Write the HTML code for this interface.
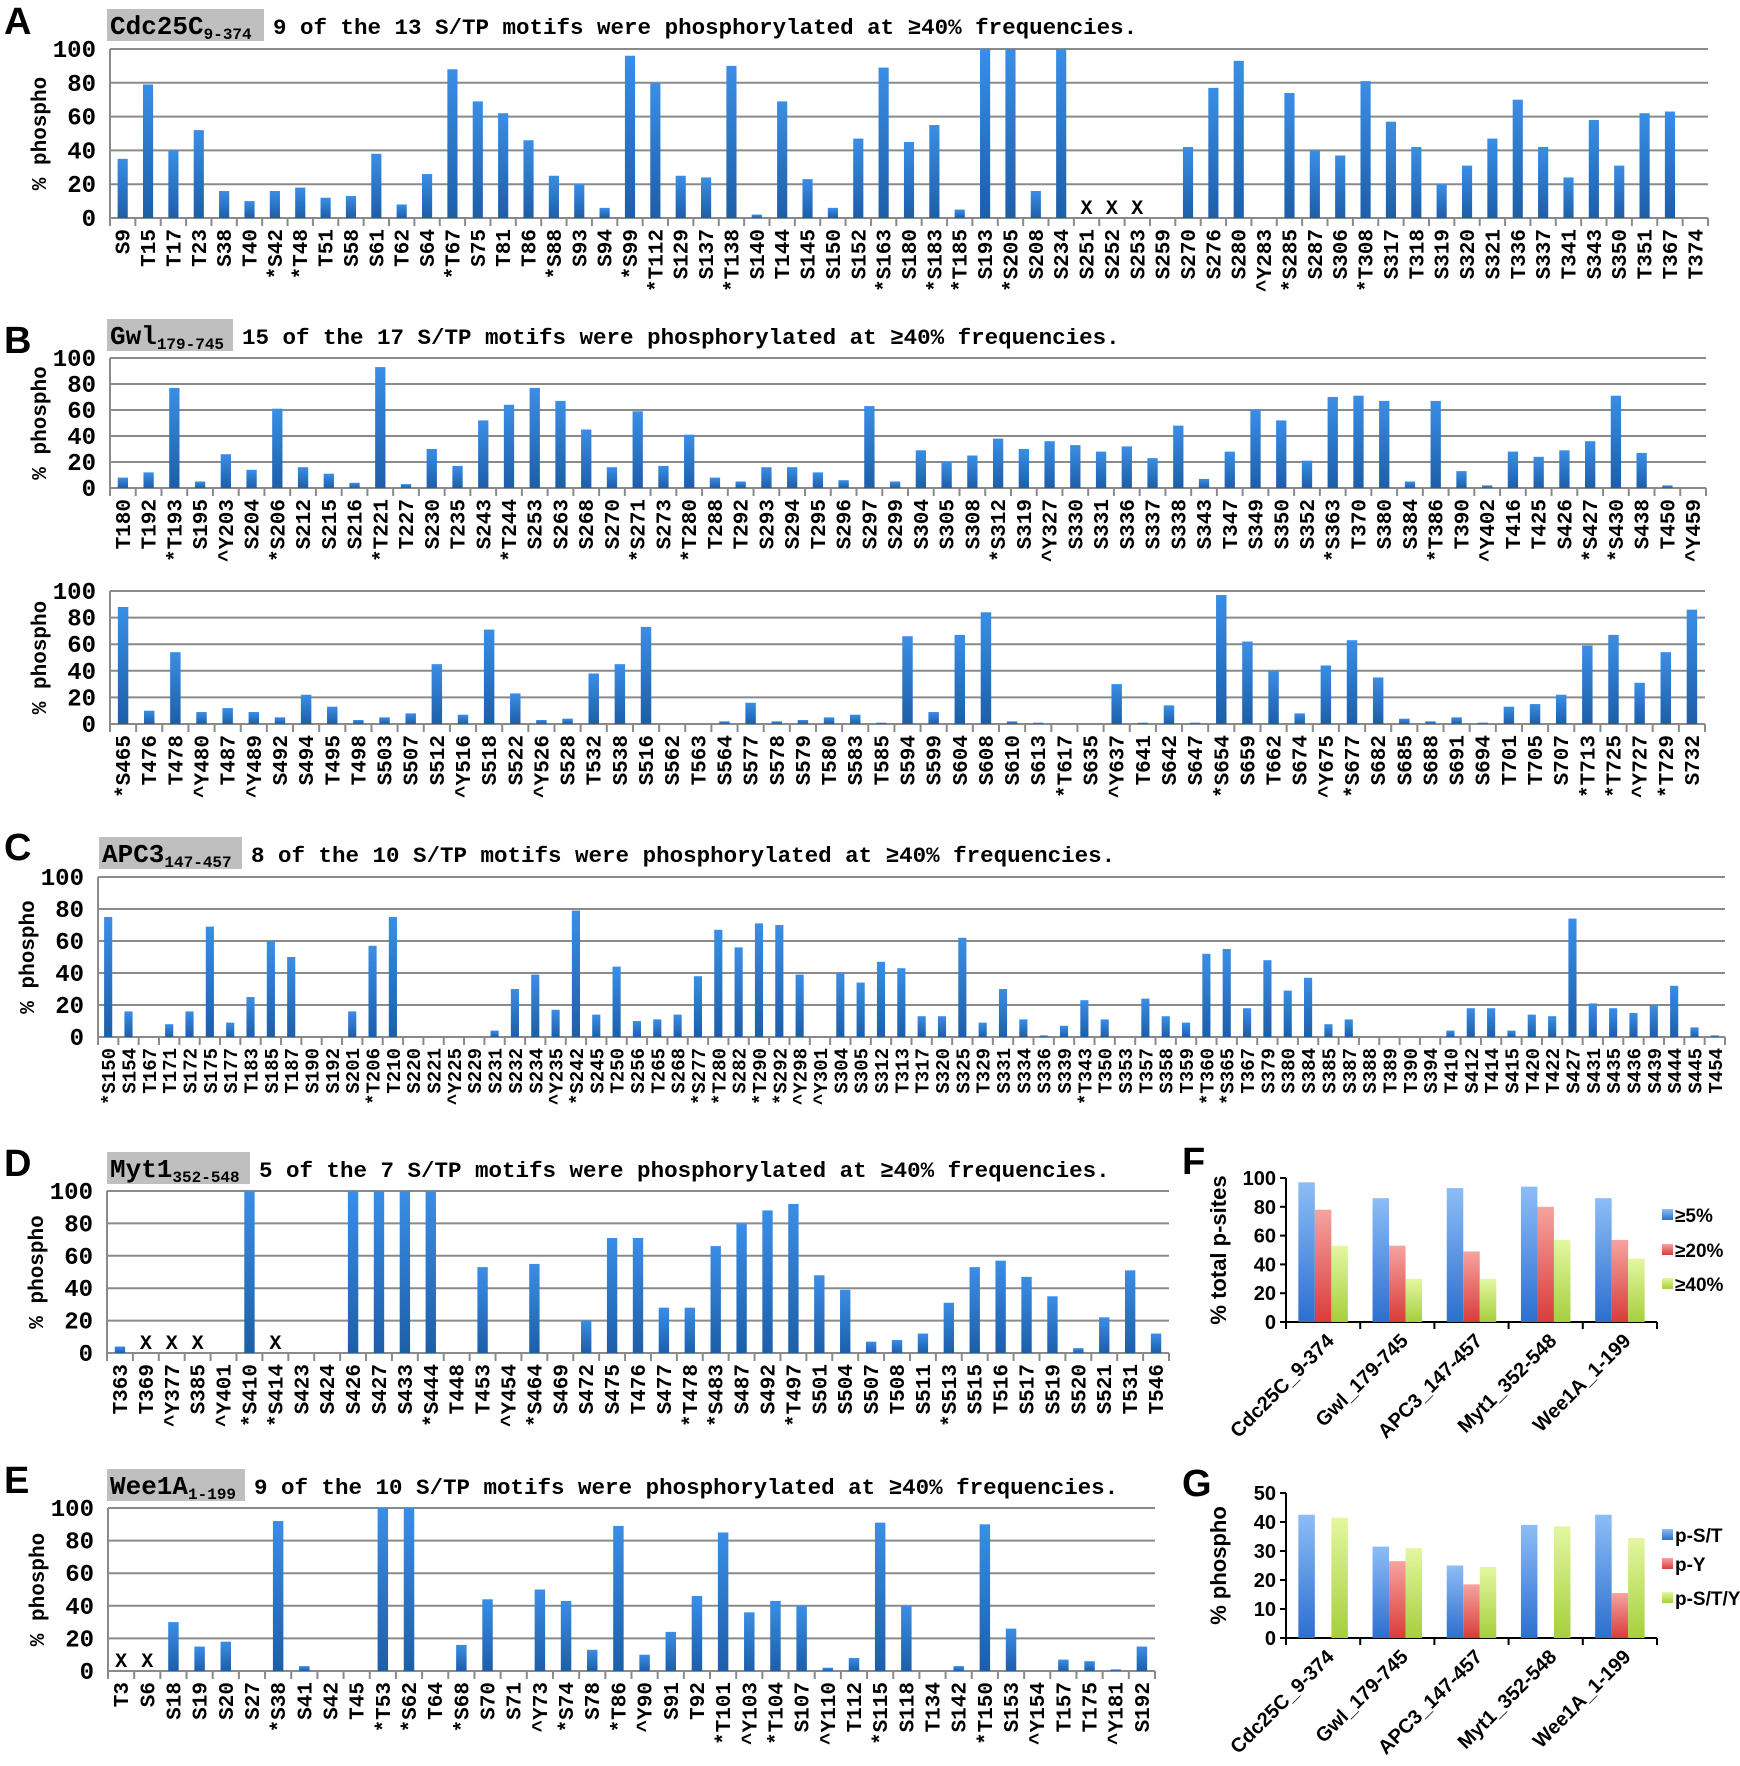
<!DOCTYPE html>
<html><head><meta charset="utf-8">
<style>
html,body{margin:0;padding:0;background:#fff;}
svg{display:block;}
.mono{font-family:"Liberation Mono","DejaVu Sans Mono",monospace;font-weight:bold;}
.sans{font-family:"Liberation Sans","DejaVu Sans",sans-serif;}
</style></head>
<body>
<svg id="fig" width="1740" height="1766" viewBox="0 0 1740 1766" xmlns="http://www.w3.org/2000/svg">
<defs>
<linearGradient id="gBlue" x1="0" y1="0" x2="0" y2="1"><stop offset="0" stop-color="#3a8ee6"/><stop offset="1" stop-color="#1d5ea8"/></linearGradient>
<linearGradient id="gFBlue" x1="0" y1="0" x2="0" y2="1"><stop offset="0" stop-color="#8dbdf7"/><stop offset="1" stop-color="#2c6fcf"/></linearGradient>
<linearGradient id="gFRed" x1="0" y1="0" x2="0" y2="1"><stop offset="0" stop-color="#f7a3a0"/><stop offset="1" stop-color="#d93c3a"/></linearGradient>
<linearGradient id="gFGreen" x1="0" y1="0" x2="0" y2="1"><stop offset="0" stop-color="#e4f7a0"/><stop offset="1" stop-color="#a6cf3c"/></linearGradient>
</defs>
</svg>
<script>
// ---------- Panel A: Cdc25C ----------
const aLabels = ["S9","T15","T17","T23","S38","T40","*S42","*T48","T51","S58","S61","T62","S64","*T67","S75","T81","T86","*S88","S93","S94","*S99","*T112","S129","S137","*T138","S140","T144","S145","S150","S152","*S163","S180","*S183","*T185","S193","*S205","S208","S234","S251","S252","S253","S259","S270","S276","S280","^Y283","*S285","S287","S306","*T308","S317","T318","S319","S320","S321","T336","S337","T341","S343","S350","T351","T367","T374"];
const aValues = [35,79,40,52,16,10,16,18,12,13,38,8,26,88,69,62,46,25,20,6,96,80,25,24,90,2,69,23,6,47,89,45,55,5,100,100,16,100,null,null,null,0,42,77,93,0,74,40,37,81,57,42,20,31,47,70,42,24,58,31,62,63,0];
// ---------- Panel B (top): Gwl ----------
const b1Labels = ["T180","T192","*T193","S195","^Y203","S204","*S206","S212","S215","S216","*T221","T227","S230","T235","S243","*T244","S253","S263","S268","S270","*S271","S273","*T280","T288","T292","S293","S294","T295","S296","S297","S299","S304","S305","S308","*S312","S319","^Y327","S330","S331","S336","S337","S338","S343","T347","S349","S350","S352","*S363","T370","S380","S384","*T386","T390","^Y402","T416","T425","S426","*S427","*S430","S438","T450","^Y459"];
const b1Values = [8,12,77,5,26,14,61,16,11,4,93,3,30,17,52,64,77,67,45,16,59,17,41,8,5,16,16,12,6,63,5,29,20,25,38,30,36,33,28,32,23,48,7,28,60,52,21,70,71,67,5,67,13,2,28,24,29,36,71,27,2,0];
// ---------- Panel B (bottom): Gwl ----------
const b2Labels = ["*S465","T476","T478","^Y480","T487","^Y489","S492","S494","T495","T498","S503","S507","S512","^Y516","S518","S522","^Y526","S528","T532","S538","S516","S562","T563","S564","S577","S578","S579","T580","S583","T585","S594","S599","S604","S608","S610","S613","*T617","S635","^Y637","T641","S642","S647","*S654","S659","T662","S674","^Y675","*S677","S682","S685","S688","S691","S694","T701","T705","S707","*T713","*T725","^Y727","*T729","S732"];
const b2Values = [88,10,54,9,12,9,5,22,13,3,5,8,45,7,71,23,3,4,38,45,73,0,0,2,16,2,3,5,7,1,66,9,67,84,2,1,0,0,30,1,14,1,97,62,40,8,44,63,35,4,2,5,1,13,15,22,59,67,31,54,86];
// ---------- Panel C: APC3 ----------
const cLabels = ["*S150","S154","T167","T171","S172","S175","S177","T183","S185","T187","S190","S192","S201","*T206","T210","S220","S221","^Y225","S229","S231","S232","S234","^Y235","*S242","S245","T250","S256","T265","S268","*S277","*T280","S282","*T290","*S292","^Y298","^Y301","S304","S305","S312","T313","T317","S320","S325","T329","S331","S334","S336","S339","*T343","T350","S353","T357","S358","T359","*T360","*S365","T367","S379","S380","S384","S385","S387","S388","T389","T390","S394","T410","S412","T414","S415","T420","T422","S427","S431","S435","S436","S439","S444","S445","T454"];
const cValues = [75,16,0,8,16,69,9,25,60,50,0,0,16,57,75,0,0,0,0,4,30,39,17,79,14,44,10,11,14,38,67,56,71,70,39,0,40,34,47,43,13,13,62,9,30,11,1,7,23,11,0,24,13,9,52,55,18,48,29,37,8,11,0,0,0,0,4,18,18,4,14,13,74,21,18,15,20,32,6,1];
// ---------- Panel D: Myt1 ----------
const dLabels = ["T363","T369","^Y377","S385","^Y401","*S410","*S414","S423","S424","S426","S427","S433","*S444","T448","T453","^Y454","*S464","S469","S472","S475","T476","S477","*T478","*S483","S487","S492","*T497","S501","S504","S507","T508","S511","*S513","S515","T516","S517","S519","S520","S521","T531","T546"];
const dValues = [4,null,null,null,0,100,null,0,0,100,100,100,100,0,53,0,55,0,20,71,71,28,28,66,80,88,92,48,39,7,8,12,31,53,57,47,35,3,22,51,12];
// ---------- Panel E: Wee1A ----------
const eLabels = ["T3","S6","S18","S19","S20","S27","*S38","S41","S42","T45","*T53","*S62","T64","*S68","S70","S71","^Y73","*S74","S78","*T86","^Y90","S91","T92","*T101","^Y103","*T104","S107","^Y110","T112","*S115","S118","T134","S142","*T150","S153","^Y154","T157","T175","^Y181","S192"];
const eValues = [null,null,30,15,18,0,92,3,0,0,100,100,0,16,44,0,50,43,13,89,10,24,46,85,36,43,40,2,8,91,40,0,3,90,26,0,7,6,1,15];
// ---------- Panel F ----------
const fGroups = ["Cdc25C_9-374","Gwl_179-745","APC3_147-457","Myt1_352-548","Wee1A_1-199"];
const fSeries5 = [97,86,93,94,86];
const fSeries20 = [78,53,49,80,57];
const fSeries40 = [53,30,30,57,44];
const fTicks = [0,20,40,60,80,100];
const fLegend = ["≥5%","≥20%","≥40%"];
// ---------- Panel G ----------
const gGroups = ["Cdc25C_9-374","Gwl_179-745","APC3_147-457","Myt1_352-548","Wee1A_1-199"];
const gSeriesST = [42.5,31.5,25,39,42.5];
const gSeriesY = [0,26.5,18.5,0,15.5];
const gSeriesSTY = [41.5,31,24.5,38.5,34.5];
const gTicks = [0,10,20,30,40,50];
const gLegend = ["p-S/T","p-Y","p-S/T/Y"];
const yTicksMain = [0,20,40,60,80,100];

const NS = "http://www.w3.org/2000/svg";
const svg = document.getElementById("fig");
function mk(tag, attrs, parent, text){
  const e = document.createElementNS(NS, tag);
  for (const k in attrs) e.setAttribute(k, attrs[k]);
  if (text !== undefined) e.textContent = text;
  (parent || svg).appendChild(e);
  return e;
}

function panelLetter(letter, x, y){
  const t = mk("text",{x:x,y:y,"font-size":38,"font-weight":"bold",class:"sans",fill:"#000"},svg,letter);
  
  
}

function titleBox(id, x0, yTop, name, sub, boxRight, desc){
  const g = mk("g",{});
  
  
  const r = mk("rect",{x:x0,y:yTop,width:boxRight-x0,height:32,fill:"#bfbfbf"},g);
  
  
  const t = mk("text",{x:x0+3,y:yTop+25,"font-size":26,class:"mono",fill:"#000"},g);
  
  
  mk("tspan",{},t,name);
  mk("tspan",{"font-size":16,dy:5},t,sub);
  const d = mk("text",{x:boxRight+9,y:yTop+25,"font-size":22.5,class:"mono",fill:"#000"},g,desc);
  
  
}

function barPanel(id, labels, values, x0, x1, yTop, yBot, labelFont){
  const g = mk("g",{});
  
  
  const n = labels.length;
  const step = (x1 - x0) / n;
  const yScale = v => yBot - (v/100)*(yBot - yTop);
  const xCenter = i => x0 + step*(i+0.5);
  yTicksMain.forEach(v=>{
    const y = yScale(v);
    const l = mk("line",{x1:x0,x2:x1,y1:y,y2:y,stroke:"#8a8a8a","stroke-width":2},g);
    
    
    const t = mk("text",{x:x0-14,y:y+8,"font-size":24,class:"mono","text-anchor":"end",fill:"#000"},g,String(v));
    
    
  });
  const ax = mk("line",{x1:x0,x2:x0,y1:yTop,y2:yBot+8,stroke:"#8a8a8a","stroke-width":2},g);
  
  
  for (let i=0;i<=n;i++){
    const x = x0 + step*i;
    const tk = mk("line",{x1:x,x2:x,y1:yBot,y2:yBot+8,stroke:"#8a8a8a","stroke-width":2},g);
    
    
  }
  const yt = mk("text",{transform:`translate(${x0-64},${(yTop+yBot)/2}) rotate(-90)`,"font-size":21,class:"mono","text-anchor":"middle",fill:"#000"},g,"% phospho");
  
  
  const bw = step*0.4;
  labels.forEach((lab,i)=>{
    const v = values[i];
    const cx = xCenter(i);
    if (v === null){
      const xm = mk("text",{x:cx,y:yBot-4,"font-size":20,class:"mono","text-anchor":"middle",fill:"#000"},g,"X");
      
      
    } else if (v > 0){
      const y = yScale(v);
      const b = mk("rect",{x:cx-bw/2,y:y,width:bw,height:yBot-y,fill:"url(#gBlue)"},g);
      
      
    }
    const t = mk("text",{transform:`translate(${cx+7},${yBot+11}) rotate(-90)`,"font-size":labelFont,class:"mono","text-anchor":"end",fill:"#000"},g,lab);
    
    
  });
}

function groupChart(id, groups, series, fills, ticks, yMax, x0, x1, yTop, yBot, yTitle, legend, legY){
  const g = mk("g",{});
  
  
  const gw = (x1-x0)/groups.length;
  const yScale = v => yBot - (v/yMax)*(yBot-yTop);
  const ax = mk("line",{x1:x0,x2:x0,y1:yTop,y2:yBot,stroke:"#000","stroke-width":2},g);
  
  
  const xa = mk("line",{x1:x0-6,x2:x1,y1:yBot,y2:yBot,stroke:"#000","stroke-width":2},g);
  
  
  ticks.forEach(v=>{
    const y = yScale(v);
    const tk = mk("line",{x1:x0-6,x2:x0,y1:y,y2:y,stroke:"#000","stroke-width":2},g);
    
    
    const t = mk("text",{x:x0-10,y:y+7,"font-size":20,"font-weight":"bold",class:"sans","text-anchor":"end",fill:"#000"},g,String(v));
    
    
  });
  for (let i=0;i<=groups.length;i++){
    const x = x0+gw*i;
    const tk = mk("line",{x1:x,x2:x,y1:yBot,y2:yBot+7,stroke:"#000","stroke-width":2},g);
    
    
  }
  const bw = 16.5;
  groups.forEach((grp,i)=>{
    const cx = x0 + gw*(i+0.5);
    series.forEach((s,j)=>{
      const v = s[i];
      if (v>0){
        const y = yScale(v);
        const b = mk("rect",{x:cx-1.5*bw+j*bw,y:y,width:bw,height:yBot-y,fill:fills[j]},g);
        
        
      }
    });
    const t = mk("text",{transform:`translate(${cx+12},${yBot+20}) rotate(-45)`,"font-size":20,"font-weight":"bold",class:"sans","text-anchor":"end",fill:"#000"},g,grp);
    
    
  });
  const yt = mk("text",{transform:`translate(${x0-60},${(yTop+yBot)/2}) rotate(-90)`,"font-size":22,"font-weight":"bold",class:"sans","text-anchor":"middle",fill:"#000"},g,yTitle);
  
  
  legend.forEach((name,j)=>{
    const ly = legY[j];
    const sq = mk("rect",{x:x1+5,y:ly-6,width:11,height:11,fill:fills[j]},g);
    
    
    const t = mk("text",{x:x1+18,y:ly+7,"font-size":19,"font-weight":"bold",class:"sans",fill:"#000"},g,name);
    
    
  });
}

panelLetter("A",4,34);
titleBox("cdc25c",107,9,"Cdc25C","9-374",264,"9 of the 13 S/TP motifs were phosphorylated at ≥40% frequencies.");
barPanel("cdc25c",aLabels,aValues,110,1708,49,218,21);

panelLetter("B",4,353);
titleBox("gwl",107,319,"Gwl","179-745",233,"15 of the 17 S/TP motifs were phosphorylated at ≥40% frequencies.");
barPanel("gwl-top",b1Labels,b1Values,110,1706,358,488,21);
barPanel("gwl-bottom",b2Labels,b2Values,110,1705,591,724,21);

panelLetter("C",4,860);
titleBox("apc3",99,837,"APC3","147-457",242,"8 of the 10 S/TP motifs were phosphorylated at ≥40% frequencies.");
barPanel("apc3",cLabels,cValues,98,1725,877,1037,19);

panelLetter("D",4,1176);
titleBox("myt1",107,1152,"Myt1","352-548",250,"5 of the 7 S/TP motifs were phosphorylated at ≥40% frequencies.");
barPanel("myt1",dLabels,dValues,107,1169,1191,1353,21);

panelLetter("E",4,1493);
titleBox("wee1a",107,1469,"Wee1A","1-199",245,"9 of the 10 S/TP motifs were phosphorylated at ≥40% frequencies.");
barPanel("wee1a",eLabels,eValues,108,1155,1508,1671,21);

panelLetter("F",1182,1174);
groupChart("psites",fGroups,[fSeries5,fSeries20,fSeries40],["url(#gFBlue)","url(#gFRed)","url(#gFGreen)"],fTicks,100,1286,1657,1178,1322,"% total p-sites",fLegend,[1215,1250,1284]);

panelLetter("G",1182,1496);
groupChart("residue",gGroups,[gSeriesST,gSeriesY,gSeriesSTY],["url(#gFBlue)","url(#gFRed)","url(#gFGreen)"],gTicks,50,1286,1657,1493,1638,"% phospho",gLegend,[1535,1564,1598]);
</script>
</body></html>
